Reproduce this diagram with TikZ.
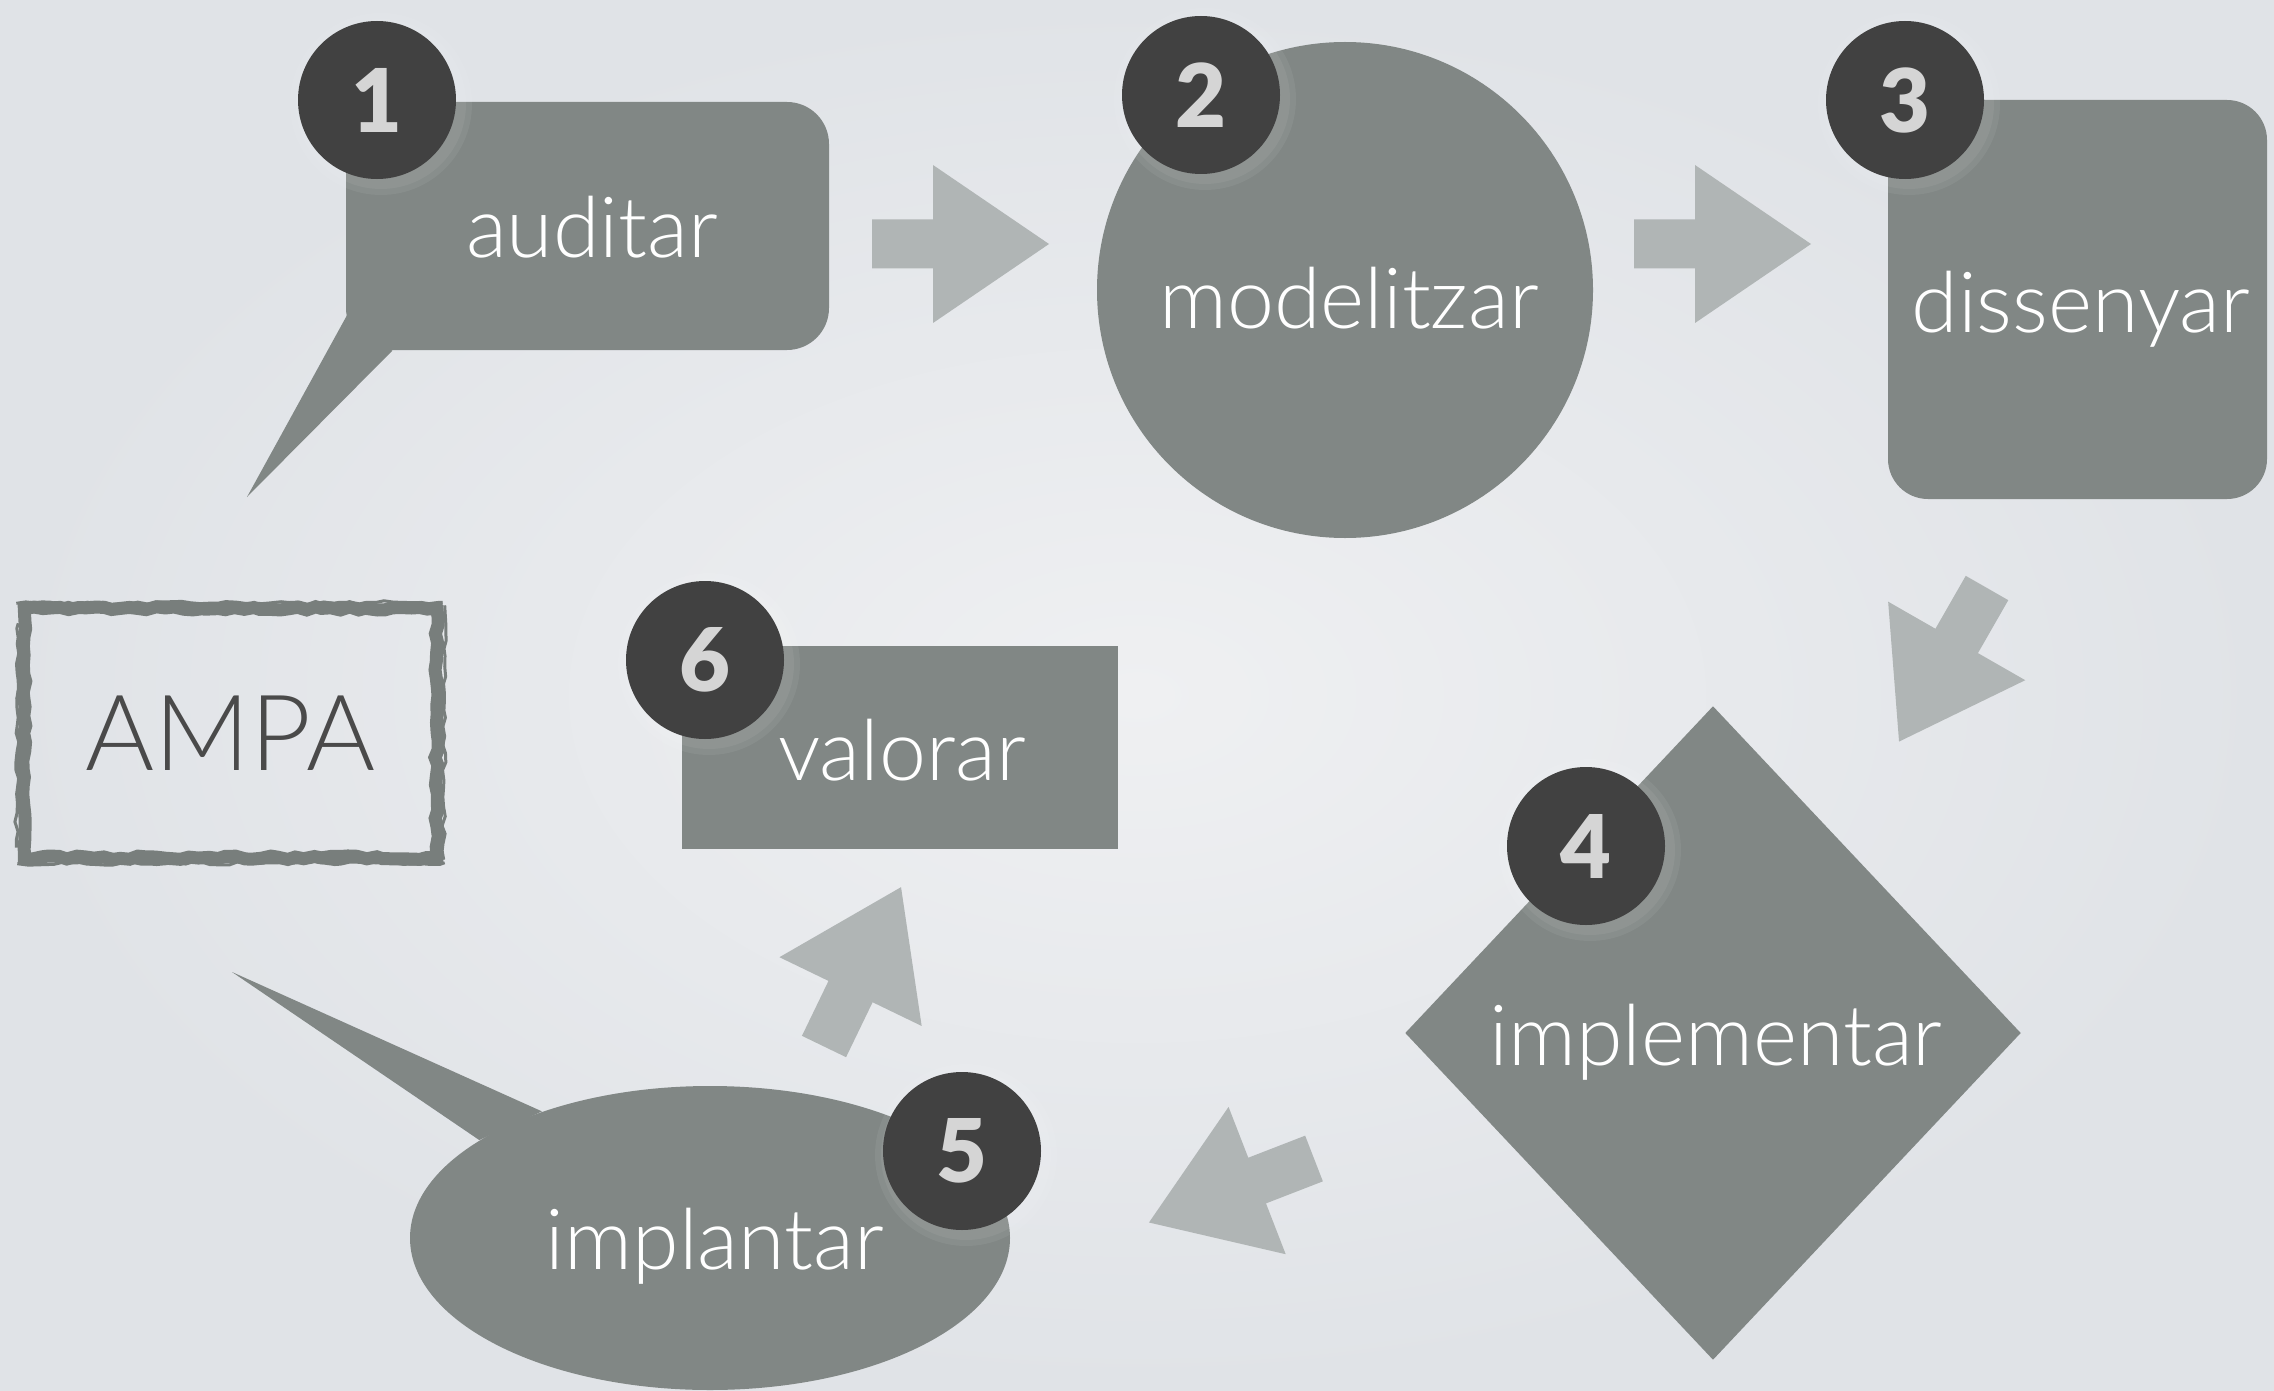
\documentclass[tikz,border=0pt]{standalone}
\usepackage{fontspec}
\newfontfamily\labfont{Lato Light}
\newfontfamily\numfont{Lato Black}
\usepackage{tikz}
\usetikzlibrary{calc,shapes.geometric,decorations.pathmorphing}
\definecolor{bgin}{HTML}{EFF0F2}
\definecolor{bgout}{HTML}{E0E3E7}
\definecolor{stepgray}{HTML}{818785}
\definecolor{badgegray}{HTML}{414141}
\definecolor{numgray}{HTML}{D5D5D5}
\definecolor{arrowgray}{HTML}{B0B5B5}
\definecolor{framegray}{HTML}{787E7C}
\definecolor{ampatext}{HTML}{4A4A4A}
\tikzset{
  stepbox/.style={fill=stepgray, draw=none, inner sep=0pt},
  tail/.style={fill=stepgray},
  badge/.style={circle, fill=badgegray, minimum size=1.58cm, inner sep=0pt, text=numgray,
    font=\numfont\fontsize{25}{25}\selectfont},
  lab/.style={text=white, inner sep=0pt, anchor=base, font=\labfont\fontsize{24}{24}\selectfont},
  grunge/.style={draw=framegray, decorate, decoration={random steps, segment length=2.5pt, amplitude=0.5pt}},
  flowarrow/.pic={
    \fill[arrowgray] (0,-0.245) -- (0.61,-0.245) -- (0.61,-0.79) -- (1.77,0)
      -- (0.61,0.79) -- (0.61,0.245) -- (0,0.245) -- cycle;
  },
}

\begin{document}
\begin{tikzpicture}
\useasboundingbox (0,0) rectangle (22.74,13.90);
\clip (0,0) rectangle (22.74,13.90);
% background
\shade[inner color=bgin, outer color=bgout] (0,0) rectangle (22.74,13.90);

% steps
\node[stepbox, rounded corners=0.42cm, minimum width=4.83cm, minimum height=2.48cm] (aud) at (5.875,11.64) {};
\coordinate (audtip) at (2.47,8.93);
\fill[tail] ($(aud.south west)+(0.02,0.36)$) -- (audtip) -- ($(aud.south west)+(0.47,0)$) -- cycle;

\node[stepbox, circle, minimum size=4.96cm] (mod) at (13.45,11.00) {};
\node[stepbox, rounded corners=0.40cm, minimum width=3.79cm, minimum height=3.99cm] (dis) at (20.775,10.905) {};
\node[stepbox, diamond, minimum width=6.16cm, minimum height=6.54cm] (imp) at (17.13,3.57) {};

\node[stepbox, ellipse, minimum width=6.0cm, minimum height=3.04cm] (ipl) at (7.10,1.52) {};
\coordinate (ipltip) at (2.32,4.18);
\fill[tail] (ipl.143) -- (ipltip) -- (ipl.157) -- cycle;

\node[stepbox, minimum width=4.36cm, minimum height=2.03cm] (val) at (9.00,6.425) {};

% block arrows
\pic at (8.72,11.46) {flowarrow};
\pic at (16.34,11.46) {flowarrow};
\pic[rotate=240.2] at (19.87,8.02) {flowarrow};
\pic[rotate=201.2] at (13.14,2.315) {flowarrow};
\pic[rotate=64.2] at (8.24,3.435) {flowarrow};

% AMPA frame
\node[font=\labfont\fontsize{30}{30}\selectfont, text=ampatext, inner sep=0pt,
  minimum width=4.11cm, minimum height=2.48cm] (ampa) at (2.305,6.57) {AMPA};
\pgfmathsetseed{11}
\draw[grunge, line width=0.13cm] (ampa.south west) rectangle (ampa.north east);
\draw[grunge, line width=0.03cm] ($(ampa.north west)+(-0.08,0.05)$) -- ($(ampa.north east)+(0.06,0.06)$);
\draw[grunge, line width=0.03cm] ($(ampa.south west)+(-0.07,-0.06)$) -- ($(ampa.south east)+(0.08,-0.05)$);
\draw[grunge, line width=0.03cm] ($(ampa.south west)+(-0.08,0.10)$) -- ($(ampa.north west)+(-0.06,-0.15)$);
\draw[grunge, line width=0.03cm] ($(ampa.south east)+(0.07,-0.02)$) -- ($(ampa.north east)+(0.08,0.03)$);

% number badges
\foreach \n/\x/\y in {1/3.77/12.90, 2/12.01/12.95, 3/19.05/12.90, 4/15.86/5.44, 5/9.62/2.39, 6/7.05/7.30}{
  \foreach \g in {0.12,0.06}
    \fill[white, opacity=0.06] ($(\x,\y)+(0.04,-0.04)$) circle ({0.79+\g});
  \node[badge] (b\n) at (\x,\y) {\n};
}

% labels
\node[lab] (t-aud) at (5.92,11.32) {auditar};
\node[lab] (t-mod) at (13.49,10.62) {modelitzar};
\node[lab] (t-dis) at (20.81,10.58) {dissenyar};
\node[lab] (t-imp) at (17.16,3.25) {implementar};
\node[lab] (t-ipl) at (7.15,1.21) {implantar};
\node[lab] (t-val) at (9.02,6.10) {valorar};
\end{tikzpicture}
\end{document}
